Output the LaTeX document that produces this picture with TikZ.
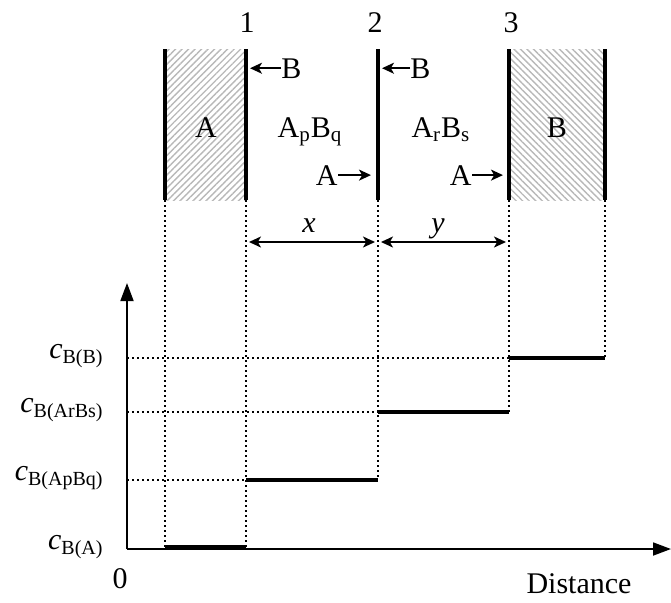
\documentclass[tikz,border=0pt]{standalone}
\usepackage{fontspec}
\setmainfont{Liberation Serif}
\usetikzlibrary{arrows.meta, positioning, patterns.meta}

\newcommand{\cconc}[1]{\textit{c}\raisebox{-0.4ex}{\fontsize{10}{10}\selectfont #1}}

\begin{document}
\begin{tikzpicture}[x=0.5pt, y=-0.5pt, font=\fontsize{15}{18}\selectfont,
    wall/.style={line width=2pt},
    guide/.style={line width=1pt, dash pattern=on 1pt off 1.5pt},
    level/.style={line width=2.2pt},
    axis/.style={line width=0.9pt, -{Triangle[length=9pt,width=6.5pt]}},
    flux/.style={-{Stealth[length=6pt,width=5.5pt,inset=1.6pt]}, line width=0.9pt},
    span/.style={{Stealth[length=6pt,width=5.5pt,inset=1.6pt]}-{Stealth[length=6pt,width=5.5pt,inset=1.6pt]},
                 line width=0.9pt, shorten <=1.5pt, shorten >=1.5pt},
    hatch/.style={pattern={Lines[angle=#1,distance=2.3pt,line width=0.7pt]},
                  pattern color=black!28}]
\useasboundingbox (0,0) rectangle (671,602);

% PHASES
\fill[hatch=45]  (165,49) rectangle (246,200);
\fill[hatch=-45] (509,49) rectangle (605,200);
\foreach \n/\x in {0/165,1/246,2/378,3/509,4/605}{
   \coordinate (w\n t) at (\x,49);
   \coordinate (w\n b) at (\x,200);
   \draw[wall] (w\n t) -- (w\n b);
}

% Interface numbers
\node[anchor=base] (n1) at (247,32) {1};
\node[anchor=base] (n2) at (375,32) {2};
\node[anchor=base] (n3) at (511,32) {3};

% Phase labels
\node[anchor=base] (phA)  at (206,137) {A};
\node[anchor=base] (phAB) at (310,137) {A\textsubscript{p}B\textsubscript{q}};
\node[anchor=base] (phAr) at (441,137) {A\textsubscript{r}B\textsubscript{s}};
\node[anchor=base] (phB)  at (557,137) {B};

% Diffusing species
\node[anchor=base west, inner sep=0pt] (bin1) at (281,78) {B};
\node[anchor=base west, inner sep=0pt] (bin2) at (410,78) {B};
\node[anchor=base east, inner sep=0pt] (ain2) at (338,185) {A};
\node[anchor=base east, inner sep=0pt] (ain3) at (472,185) {A};
\draw[flux, shorten >=2pt] (bin1.west) -- (bin1.west -| w1t);
\draw[flux, shorten >=2pt] (bin2.west) -- (bin2.west -| w2t);
\draw[flux, shorten >=3.5pt] (ain2.east) -- (ain2.east -| w2t);
\draw[flux, shorten >=3pt] (ain3.east) -- (ain3.east -| w3t);

% Thicknesses
\coordinate (d1) at (246,242);
\coordinate (d2) at (378,242);
\coordinate (d3) at (509,242);
\draw[span] (d1) -- (d2);
\draw[span] (d2) -- (d3);
\node[anchor=base] (lx) at (309,232) {\textit{x}};
\node[anchor=base] (ly) at (438,232) {\textit{y}};

% Concentration profile
\coordinate (o) at (127,549);
\draw[axis] (o) -- (127,283);
\draw[axis] (o) -- (671,549);

\foreach \x/\y in {165/549,246/549,378/480,509/412,605/358}
   \draw[guide] (\x,200) -- (\x,\y);
\foreach \x/\y in {246/480,378/412,509/358}
   \draw[guide] (127,\y) -- (\x,\y);

\draw[level] (165,547) -- (246,547);
\draw[level] (246,480) -- (378,480);
\draw[level] (378,412) -- (509,412);
\draw[level] (509,358) -- (605,358);

\node[anchor=base east, inner sep=0pt] (cB)  at (103,358) {\cconc{B(B)}};
\node[anchor=base east, inner sep=0pt] (cAr) at (103,412) {\cconc{B(ArBs)}};
\node[anchor=base east, inner sep=0pt] (cAp) at (103,480) {\cconc{B(ApBq)}};
\node[anchor=base east, inner sep=0pt] (cA)  at (103,549) {\cconc{B(A)}};

\node[anchor=base] (zero) at (120,588) {0};
\node[anchor=base] (dist) at (579,593) {Distance};

\end{tikzpicture}
\end{document}
